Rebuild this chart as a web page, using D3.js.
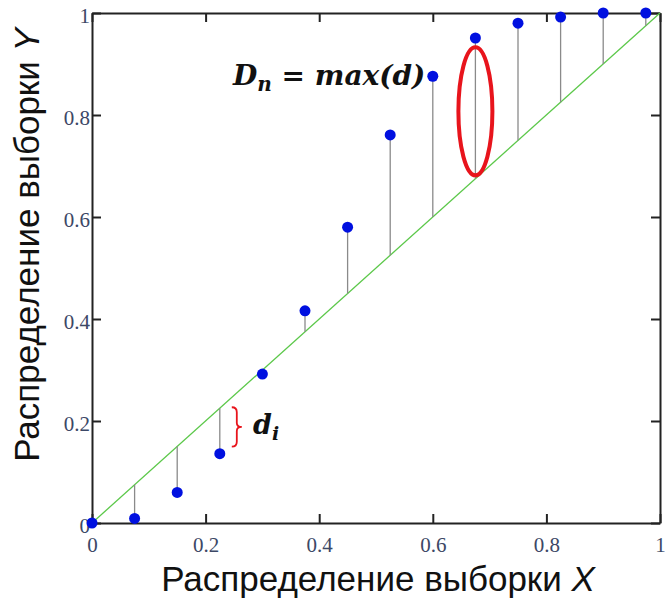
<!DOCTYPE html>
<html>
<head>
<meta charset="utf-8">
<script src="https://cdn.jsdelivr.net/npm/d3@7"></script>
<style>
  body { margin: 0; background: #fff; }
  .tick text { font-family: "Liberation Serif", "Times New Roman", serif; font-size: 21px; fill: #3c4866; }
  .axis path, .axis line { stroke: #222; stroke-width: 2; }
  .title { font-family: "Liberation Sans", Arial, sans-serif; font-size: 35px; fill: #111; }
  .math { font-family: "DejaVu Serif", serif; font-weight: bold; font-style: italic; fill: #111; }
</style>
</head>
<body>
<div id="chart"></div>
<script>
// sample points (theoretical CDF value on x, empirical on y)
const sampleX = [0, 0.075, 0.15, 0.225, 0.3, 0.375, 0.45, 0.525, 0.6, 0.675, 0.75, 0.825, 0.9, 0.975];
const sampleY = [0, 0.009, 0.06, 0.136, 0.292, 0.416, 0.58, 0.761, 0.876, 0.951, 0.98, 0.992, 1.0, 1.0];
const lineX = [0, 1];
const tickValues = [0, 0.2, 0.4, 0.6, 0.8, 1];

const width = 667, height = 600;
const margin = { top: 13, right: 7, bottom: 77, left: 92 };

const svg = d3.select("#chart").append("svg")
    .attr("width", width)
    .attr("height", height);

const x = d3.scaleLinear().domain([0, 1]).range([margin.left, width - margin.right]);
const y = d3.scaleLinear().domain([0, 1]).range([height - margin.bottom, margin.top]);

const fmt = d => (d === 0 || d === 1) ? String(d) : d3.format(".1f")(d);

// frame with inward ticks on all four sides
svg.append("g")
    .attr("class", "axis")
    .attr("transform", "translate(0," + y(0) + ")")
    .call(d3.axisBottom(x).tickValues(tickValues).tickSizeInner(-9).tickSizeOuter(0).tickPadding(14).tickFormat(fmt));

svg.append("g")
    .attr("class", "axis")
    .attr("transform", "translate(" + x(0) + ",0)")
    .call(d3.axisLeft(y).tickValues(tickValues).tickSizeInner(-9).tickSizeOuter(0).tickPadding(2).tickFormat(fmt))
    .selectAll(".tick text").attr("dy", "0.45em");

svg.append("g")
    .attr("class", "axis")
    .attr("transform", "translate(0," + y(1) + ")")
    .call(d3.axisTop(x).tickValues(tickValues).tickSizeInner(-9).tickSizeOuter(0).tickFormat(""));

svg.append("g")
    .attr("class", "axis")
    .attr("transform", "translate(" + x(1) + ",0)")
    .call(d3.axisRight(y).tickValues(tickValues).tickSizeInner(-9).tickSizeOuter(0).tickFormat(""));

// y = x reference line
svg.append("line")
    .attr("x1", x(lineX[0])).attr("y1", y(lineX[0]))
    .attr("x2", x(lineX[1])).attr("y2", y(lineX[1]))
    .attr("stroke", "#5cc84a")
    .attr("stroke-width", 1.3);

const pts = sampleX.map((d, i) => ({ x: d, y: sampleY[i] }));

// stems between point and line
svg.append("g").selectAll("line")
    .data(pts)
    .enter().append("line")
    .attr("x1", d => x(d.x)).attr("x2", d => x(d.x))
    .attr("y1", d => y(d.x)).attr("y2", d => y(d.y))
    .attr("stroke", "#8a8a8a")
    .attr("stroke-width", 1.3);

svg.append("g").selectAll("circle")
    .data(pts)
    .enter().append("circle")
    .attr("cx", d => x(d.x))
    .attr("cy", d => y(d.y))
    .attr("r", 5.5)
    .attr("fill", "#0010e0");

// annotations
const maxPt = pts[9];
svg.append("ellipse")
    .attr("cx", x(maxPt.x))
    .attr("cy", (y(maxPt.y) + y(maxPt.x)) / 2 + 3)
    .attr("rx", 17)
    .attr("ry", 64)
    .attr("fill", "none")
    .attr("stroke", "#e8141c")
    .attr("stroke-width", 4);

const dn = svg.append("text").attr("class", "math")
    .attr("x", 233).attr("y", 85).attr("font-size", 28);
dn.append("tspan").text("D");
dn.append("tspan").attr("dy", 6).attr("font-size", 20).text("n");
dn.append("tspan").attr("dy", -6).text(" = max(d)");

// brace next to one stem
const bracePt = pts[3];
const bx = x(bracePt.x) + 12;
const bTop = y(bracePt.x) - 1, bBot = y(bracePt.y) - 7, bMid = (bTop + bBot) / 2;
svg.append("path")
    .attr("d", "M" + bx + "," + bTop +
        " Q" + (bx + 5) + "," + bTop + " " + (bx + 5) + "," + (bTop + 5) +
        " L" + (bx + 5) + "," + (bMid - 4) +
        " Q" + (bx + 5) + "," + bMid + " " + (bx + 10) + "," + bMid +
        " Q" + (bx + 5) + "," + bMid + " " + (bx + 5) + "," + (bMid + 4) +
        " L" + (bx + 5) + "," + (bBot - 5) +
        " Q" + (bx + 5) + "," + bBot + " " + bx + "," + bBot)
    .attr("fill", "none")
    .attr("stroke", "#e8141c")
    .attr("stroke-width", 1.8);

const di = svg.append("text").attr("class", "math")
    .attr("x", 253).attr("y", 434).attr("font-size", 27);
di.append("tspan").text("d");
di.append("tspan").attr("dy", 6).attr("font-size", 19).text("i");

// axis titles
const xt = svg.append("text").attr("class", "title")
    .attr("x", 378).attr("y", 591)
    .attr("text-anchor", "middle");
xt.append("tspan").text("Распределение выборки ");
xt.append("tspan").attr("font-style", "italic").text("X");

const yt = svg.append("text").attr("class", "title")
    .attr("transform", "translate(39,245) rotate(-90)")
    .attr("text-anchor", "middle");
yt.append("tspan").text("Распределение выборки ");
yt.append("tspan").attr("font-style", "italic").text("Y");
</script>
</body>
</html>
